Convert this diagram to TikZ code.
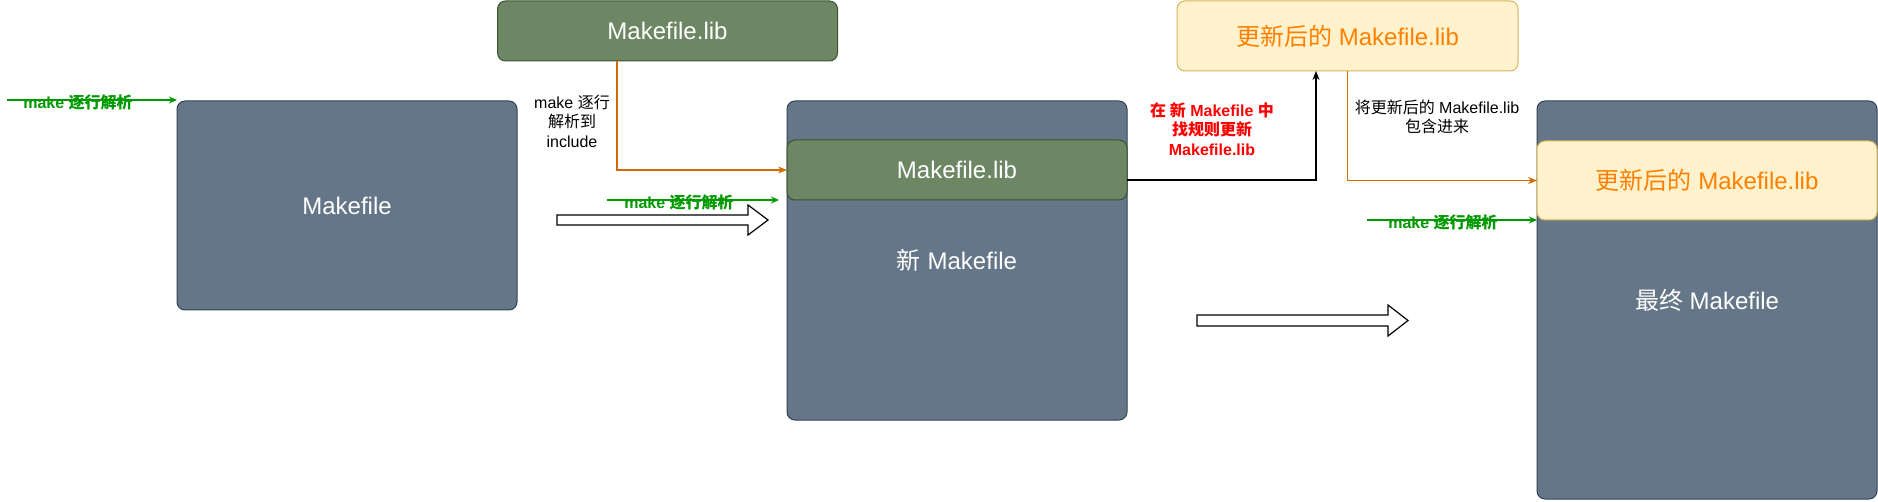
\documentclass[tikz,border=0pt]{standalone}
\usepackage{fontspec}
\setmainfont{Liberation Sans}
\newfontfamily\cjk{Noto Sans CJK SC}
\usetikzlibrary{arrows.meta}
\newcommand{\zhtxt}[1]{{\cjk #1}}
\definecolor{slate}{HTML}{647687}
\definecolor{slateline}{HTML}{314354}
\definecolor{oliv}{HTML}{6D8764}
\definecolor{olivline}{HTML}{3A5431}
\definecolor{cream}{HTML}{FFF2CC}
\definecolor{goldline}{HTML}{D6B656}
\definecolor{orangetext}{HTML}{FF8000}
\definecolor{orangeline}{HTML}{D46A00}
\definecolor{greenline}{HTML}{009900}
\begin{document}
\begin{tikzpicture}[x=1pt,y=-1pt,
  box/.style={rectangle, rounded corners=8pt, inner sep=0pt, outer sep=0pt,
    line width=1pt, minimum width=340pt, font=\fontsize{24}{28}\selectfont},
  mkbox/.style={box, draw=slateline, fill=slate, text=white},
  libbox/.style={box, draw=olivline, fill=oliv, text=white},
  updbox/.style={box, draw=goldline, fill=cream, text=orangetext},
  note/.style={align=center, font=\fontsize{16}{19.5}\selectfont},
  scanlbl/.style={note, text=greenline, font=\fontsize{16}{19.5}\selectfont\bfseries},
  scan/.style={draw=greenline, line width=1.2pt, -{Stealth[length=8pt,width=7pt]}},
  link/.style={line width=1.2pt, -{Stealth[length=9pt,width=7pt]}},
  bigarrow/.style={draw=black, fill=white, line width=1.2pt}
]
\useasboundingbox (0,0) rectangle (1878,502);

% boxes
\node[mkbox, minimum height=209pt] (mk) at (347,205.5) {Makefile};
\node[libbox, minimum height=60pt] (lib) at (667.5,31) {Makefile.lib};
\node[mkbox, minimum height=319pt] (newmk) at (957,260.5) {\zhtxt{新} Makefile};
\node[libbox, minimum height=60pt] (innerlib) at (957,170) {Makefile.lib};
\node[updbox, minimum width=341pt, minimum height=70pt] (upd) at (1347.5,36) {\zhtxt{更新后的} Makefile.lib};
\node[mkbox, minimum height=398pt] (final) at (1707,300) {\zhtxt{最终} Makefile};
\node[updbox, minimum height=79pt] (finallib) at (1707,180.5) {\zhtxt{更新后的} Makefile.lib};

% make scanning arrows
\coordinate (s1) at (7,100);
\coordinate (e1) at (177,100);
\draw[scan] (s1) -- (e1);
\node[scanlbl] (l1) at (78,102) {make \zhtxt{逐行解析}};
\coordinate (s2) at (607,200);
\coordinate (e2) at (779,200);
\draw[scan] (s2) -- (e2);
\node[scanlbl] (l2) at (679,202) {make \zhtxt{逐行解析}};
\coordinate (s3) at (1367,220);
\draw[scan] (s3) -- (finallib.south west);
\node[scanlbl] (l3) at (1443,222) {make \zhtxt{逐行解析}};

% include and update links
\draw[link, draw=orangeline] ([xshift=-50.5pt]lib.south) |- (innerlib.west);
\node[note] (n1) at (572,121) {make \zhtxt{逐行}\\\zhtxt{解析到}\\include};
\draw[link] (innerlib.east) ++(0,10) -| ([xshift=-31.5pt]upd.south);
\node[note, text=red, font=\fontsize{16}{19.5}\selectfont\bfseries] (n2) at (1212,129)
  {\zhtxt{在 新} Makefile \zhtxt{中}\\\zhtxt{找规则更新}\\Makefile.lib};
\draw[link, draw=orangeline] (upd.south) |- (finallib.west);
\node[note] (n3) at (1437,117) {\zhtxt{将更新后的} Makefile.lib\\\zhtxt{包含进来}};

% block arrows
\draw[bigarrow] (557,215) -- (748,215) -- (748,205) -- (768,220) -- (748,235)
  -- (748,225) -- (557,225) -- cycle;
\draw[bigarrow] (1197,315) -- (1388,315) -- (1388,305) -- (1408,320.5) -- (1388,336)
  -- (1388,326) -- (1197,326) -- cycle;
\end{tikzpicture}
\end{document}
